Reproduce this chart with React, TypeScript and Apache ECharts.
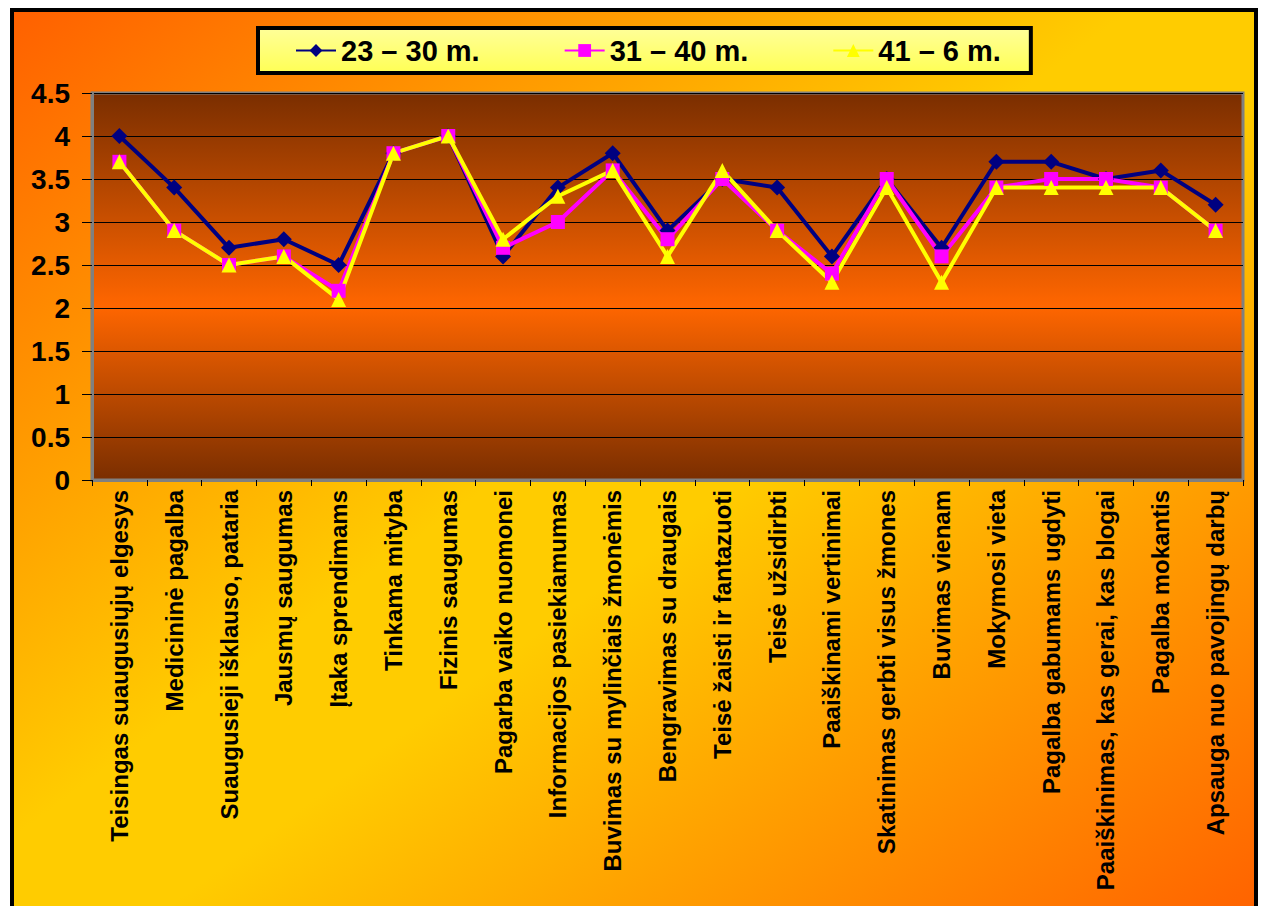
import React, { useEffect, useRef } from "react";
import * as echarts from "echarts";

const categories = [
  "Teisingas suaugusiųjų elgesys",
  "Medicininė pagalba",
  "Suaugusieji išklauso, pataria",
  "Jausmų saugumas",
  "Įtaka sprendimams",
  "Tinkama mityba",
  "Fizinis saugumas",
  "Pagarba vaiko nuomonei",
  "Informacijos pasiekiamumas",
  "Buvimas su mylinčiais žmonėmis",
  "Bengravimas su draugais",
  "Teisė žaisti ir fantazuoti",
  "Teisė užsidirbti",
  "Paaiškinami vertinimai",
  "Skatinimas gerbti visus žmones",
  "Buvimas vienam",
  "Mokymosi vieta",
  "Pagalba gabumams ugdyti",
  "Paaiškinimas, kas gerai, kas blogai",
  "Pagalba mokantis",
  "Apsauga nuo pavojingų darbų",
];

const seriesNames = ["23 – 30 m.", "31 – 40 m.", "41 – 6 m."];

const values23to30 = [4.0, 3.4, 2.7, 2.8, 2.5, 3.8, 4.0, 2.6, 3.4, 3.8, 2.9, 3.5, 3.4, 2.6, 3.5, 2.7, 3.7, 3.7, 3.5, 3.6, 3.2];
const values31to40 = [3.7, 2.9, 2.5, 2.6, 2.2, 3.8, 4.0, 2.7, 3.0, 3.6, 2.8, 3.5, 2.9, 2.4, 3.5, 2.6, 3.4, 3.5, 3.5, 3.4, 2.9];
const values41to6 = [3.7, 2.9, 2.5, 2.6, 2.1, 3.8, 4.0, 2.8, 3.3, 3.6, 2.6, 3.6, 2.9, 2.3, 3.4, 2.3, 3.4, 3.4, 3.4, 3.4, 2.9];

const FONT = "'Liberation Sans', Arial, sans-serif";

export default function App() {
  const ref = useRef<HTMLDivElement>(null);

  useEffect(() => {
    if (!ref.current) return;
    const chart = echarts.init(ref.current, null, { renderer: "svg" });
    const lg = (stops: [number, string][], x2 = 0, y2 = 1) =>
      new echarts.graphic.LinearGradient(0, 0, x2, y2, stops.map(([offset, color]) => ({ offset, color })));

    chart.setOption({
      animation: false,
      graphic: [
        {
          type: "rect",
          z: -10,
          silent: true,
          shape: { x: 12, y: 10, width: 1244, height: 920 },
          style: {
            fill: lg([[0, "#ff6000"], [0.45, "#ffcc00"], [0.55, "#ffcc00"], [1, "#ff6000"]], 1, 1),
            stroke: "#000000",
            lineWidth: 4,
          },
        },
      ],
      legend: {
        left: 258,
        top: 28,
        padding: [8, 30, 8, 37],
        itemGap: 84,
        itemWidth: 40,
        itemHeight: 16,
        backgroundColor: lg([[0, "#ffff99"], [1, "#ffff55"]]),
        borderColor: "#000000",
        borderWidth: 4,
        textStyle: { fontFamily: FONT, fontWeight: "bold", fontSize: 29, color: "#000000" },
        data: seriesNames,
      },
      grid: {
        left: 92,
        right: 19,
        top: 93,
        bottom: 426,
        show: true,
        borderColor: "#808080",
        borderWidth: 3,
        backgroundColor: lg([[0, "#7a2e00"], [0.55, "#ff6600"], [1, "#7a2e00"]]),
      },
      xAxis: {
        type: "category",
        data: categories,
        boundaryGap: true,
        axisLine: { show: true, lineStyle: { color: "#808080", width: 3 } },
        axisTick: { show: true, length: 6, lineStyle: { color: "#000000" } },
        axisLabel: {
          interval: 0,
          rotate: 90,
          margin: 10,
          fontFamily: FONT,
          fontWeight: "bold",
          fontSize: 24,
          color: "#000000",
        },
      },
      yAxis: {
        type: "value",
        min: 0,
        max: 4.5,
        interval: 0.5,
        axisLine: { show: true, lineStyle: { color: "#808080", width: 3 } },
        axisTick: { show: true, length: 10, lineStyle: { color: "#000000" } },
        axisLabel: {
          margin: 22,
          fontFamily: FONT,
          fontWeight: "bold",
          fontSize: 28,
          color: "#000000",
        },
        splitLine: { show: true, lineStyle: { color: "#000000", width: 1 } },
      },
      series: [
        {
          name: seriesNames[0],
          type: "line",
          data: values23to30,
          symbol: "diamond",
          symbolSize: 16,
          lineStyle: { color: "#000080", width: 4 },
          itemStyle: { color: "#000080" },
        },
        {
          name: seriesNames[1],
          type: "line",
          data: values31to40,
          symbol: "rect",
          symbolSize: 14,
          lineStyle: { color: "#ff00ff", width: 4 },
          itemStyle: { color: "#ff00ff" },
        },
        {
          name: seriesNames[2],
          type: "line",
          data: values41to6,
          symbol: "triangle",
          symbolSize: 15,
          lineStyle: { color: "#ffff00", width: 4 },
          itemStyle: { color: "#ffff00" },
        },
      ],
    });
    return () => chart.dispose();
  }, []);

  return (
    <div
      ref={ref}
      style={{ position: "fixed", left: 0, top: 0, width: 1262, height: 906, background: "#ffffff" }}
    />
  );
}
